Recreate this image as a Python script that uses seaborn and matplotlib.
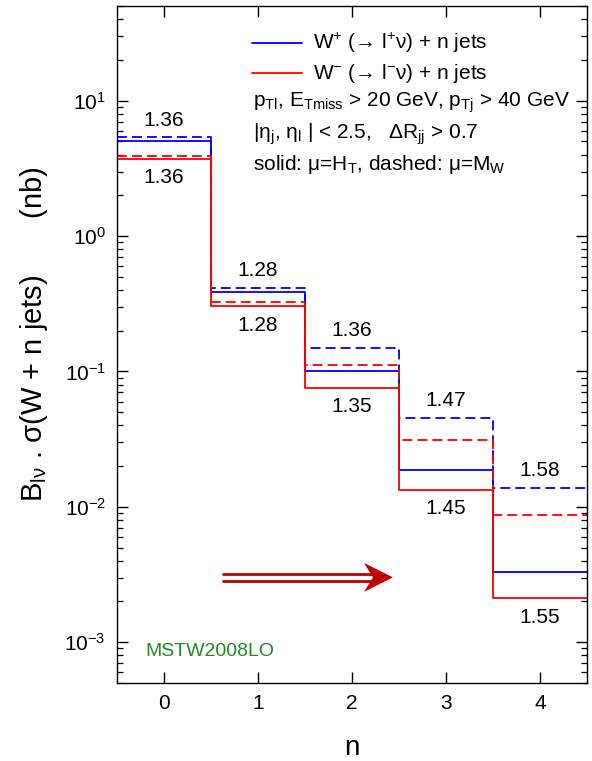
import numpy as np
import pandas as pd
import matplotlib
matplotlib.use("Agg")
import matplotlib.pyplot as plt
import seaborn as sns
from matplotlib.patches import Polygon

# jet multiplicity and cross sections (nb)
n_jets = np.array([0, 1, 2, 3, 4])
wplus_ht = [5.08, 0.387, 0.101, 0.0188, 0.00328]
wplus_mw = [5.35, 0.417, 0.150, 0.0454, 0.01375]
wminus_ht = [3.72, 0.302, 0.0755, 0.0134, 0.00211]
wminus_mw = [3.89, 0.328, 0.112, 0.0310, 0.00873]

# W+/W- ratios written on the plot
ratio_mw = ["1.36", "1.28", "1.36", "1.47", "1.58"]
ratio_ht = ["1.36", "1.28", "1.35", "1.45", "1.55"]

sns.set_theme(style="ticks")
plt.rcParams["font.family"] = ["Liberation Sans", "DejaVu Sans"]
plt.rcParams["mathtext.fontset"] = "custom"
plt.rcParams["mathtext.rm"] = "Liberation Sans"
plt.rcParams["mathtext.it"] = "Liberation Sans:italic"
plt.rcParams["mathtext.bf"] = "Liberation Sans:bold"
plt.rcParams["text.color"] = "black"
plt.rcParams["axes.labelcolor"] = "black"

# step edges: bins centred on n
edges = np.append(n_jets - 0.5, n_jets[-1] + 0.5)
rows = []
for charge, scale, vals in [("W+", "HT", wplus_ht), ("W+", "MW", wplus_mw),
                            ("W-", "HT", wminus_ht), ("W-", "MW", wminus_mw)]:
    yv = list(vals) + [vals[-1]]
    for e, v in zip(edges, yv):
        rows.append({"edge": e, "sigma": v, "charge": charge, "scale": scale})
df = pd.DataFrame(rows)

fig = plt.figure(figsize=(5.92, 7.61), dpi=100)
ax = fig.add_axes([0.1976, 0.1025, 0.794, 0.8895])

sns.lineplot(data=df, x="edge", y="sigma", hue="charge", style="scale",
             palette={"W+": "#0000ff", "W-": "#ff0000"},
             dashes={"HT": "", "MW": (5.5, 2.8)},
             drawstyle="steps-post", estimator=None, legend=False,
             lw=1.3, ax=ax)

ax.set_yscale("log")
ax.set_xlim(-0.5, 4.5)
ax.set_ylim(5e-4, 50)
ax.set_xticks(n_jets)
ax.set_xlabel("n", fontsize=20, labelpad=16)
ax.set_ylabel("B$_{\\mathrm{lν}}$ . σ(W + n jets)       (nb)", fontsize=21)
ax.yaxis.set_label_coords(-0.143, 0.516)

for sp in ax.spines.values():
    sp.set_linewidth(1.0)
    sp.set_color("black")
ax.tick_params(which="both", direction="in", top=True, right=True,
               colors="black", labelcolor="black")
ax.tick_params(which="major", length=8, width=1.0, labelsize=15, pad=8)
ax.tick_params(which="minor", length=4.5, width=0.9)
ax.tick_params(axis="x", which="minor", bottom=False, top=False)

# ratio labels
for i, x in enumerate(n_jets):
    ax.annotate(ratio_mw[i], (x, wplus_mw[i]), xytext=(0, 12.5), textcoords="offset points",
                ha="center", va="center", fontsize=15)
    ax.annotate(ratio_ht[i], (x, wminus_ht[i]), xytext=(0, -13.5), textcoords="offset points",
                ha="center", va="center", fontsize=15)

# legend block
ax.plot([0.287, 0.394], [0.9453, 0.9453], color="#0000ff", lw=1.3, transform=ax.transAxes)
ax.plot([0.287, 0.394], [0.901, 0.901], color="#ff0000", lw=1.3, transform=ax.transAxes)
tx = dict(transform=ax.transAxes, va="center", ha="left", fontsize=15)
ax.text(0.417, 0.9453, "W$^{+}$ (→ l$^{+}$ν) + n jets", **tx)
ax.text(0.417, 0.901, "W$^{-}$ (→ l$^{-}$ν) + n jets", **tx)
ax.text(0.289, 0.8567, r"p$_{\rm Tl}$, E$_{\rm Tmiss}$ > 20 GeV, p$_{\rm Tj}$ > 40 GeV", **tx)
ax.text(0.289, 0.8109, "|η$_{\\rm j}$, η$_{\\rm l}$ | < 2.5,   ΔR$_{\\rm jj}$ > 0.7", **tx)
ax.text(0.289, 0.7666, "solid: μ=H$_{\\rm T}$, dashed: μ=M$_{\\rm W}$", **tx)

ax.text(0.06, 0.047, "MSTW2008LO", transform=ax.transAxes, color="#1e8c1e",
        fontsize=14, ha="left", va="center")

# double-shaft arrow
arr_col = "#c00000"
yc = 0.156
for dy in (0.0052, -0.0052):
    ax.plot([0.223, 0.545], [yc + dy, yc + dy], color=arr_col, lw=2.0,
            transform=ax.transAxes, solid_capstyle="butt")
ax.add_patch(Polygon([(0.5255, yc + 0.0214), (0.587, yc), (0.5255, yc - 0.0214),
                      (0.5447, yc)],
                     closed=True, color=arr_col, transform=ax.transAxes, lw=0))

fig.savefig("out.png", dpi=100)
